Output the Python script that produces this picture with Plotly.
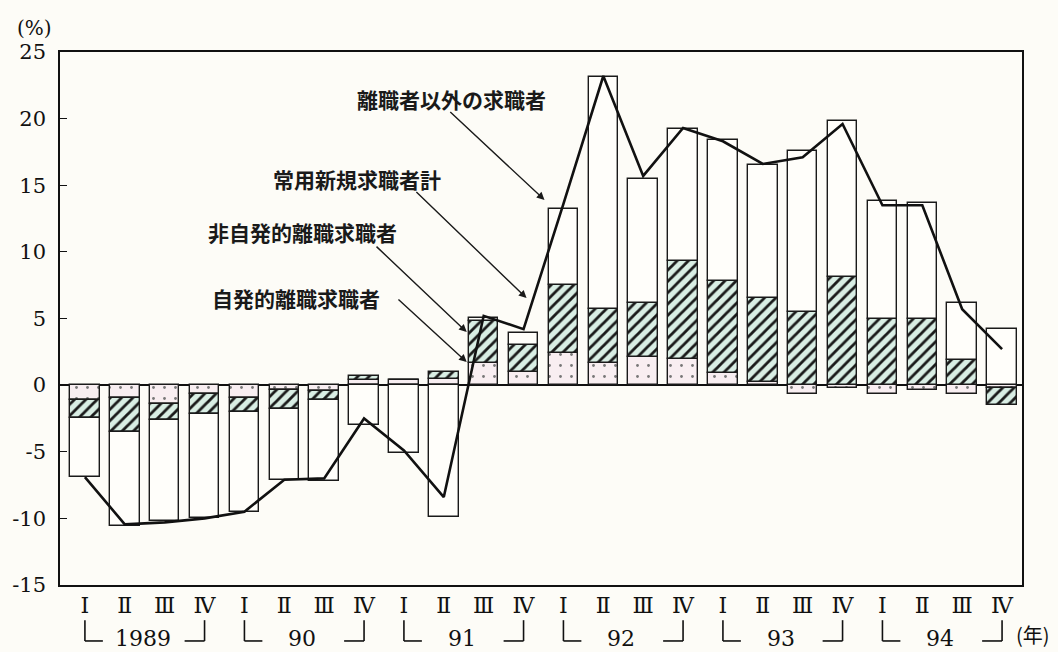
import plotly.graph_objects as go

# ---- data (percent change, contributions) ----
quarter_labels = ["Ⅰ", "Ⅱ", "Ⅲ", "Ⅳ"] * 6
year_labels = ["1989", "90", "91", "92", "93", "94"]

voluntary = [-1.1, -1.0, -1.4, -0.65, -0.95, -0.4, -0.45, 0.4, 0.4, 0.45, 1.65, 1.0,
             2.4, 1.65, 2.1, 1.95, 0.9, 0.2, -0.65, -0.2, -0.65, -0.4, -0.65, -0.25]
involuntary = [-1.35, -2.55, -1.25, -1.55, -1.1, -1.4, -0.65, 0.3, 0.0, 0.5, 3.15, 2.0,
               5.1, 4.1, 4.05, 7.4, 6.9, 6.35, 5.5, 8.1, 4.95, 5.0, 1.85, -1.25]
other = [-4.45, -7.05, -7.55, -7.8, -7.5, -5.35, -6.1, -3.0, -5.1, -9.9, 0.25, 0.9,
         5.75, 17.35, 9.35, 9.9, 10.6, 10.0, 12.1, 11.75, 8.85, 8.7, 4.35, 4.2]
total = [-6.9, -10.45, -10.3, -10.0, -9.5, -7.1, -7.0, -2.5, -4.9, -8.4, 5.2, 4.2,
         13.6, 23.2, 15.7, 19.3, 18.3, 16.6, 17.1, 19.6, 13.5, 13.5, 5.7, 2.7]

x = list(range(len(total)))
XMIN, XMAX = -0.625, 23.5
BG = "#fdfcf7"
JP = "Noto Sans CJK JP"
SERIF = "DejaVu Serif"

line_style = dict(color="#1a1a1a", width=1.4)

fig = go.Figure()
fig.add_trace(go.Bar(
    x=x, y=voluntary, width=0.74, name="自発的離職求職者",
    marker=dict(color="#f8eef1", line=line_style,
                pattern=dict(shape=".", fgcolor="#777", bgcolor="#f8eef1",
                             size=11, solidity=0.05, fillmode="replace")),
))
fig.add_trace(go.Bar(
    x=x, y=involuntary, width=0.74, name="非自発的離職求職者",
    marker=dict(color="#d9eee4", line=line_style,
                pattern=dict(shape="/", fgcolor="#1a1a1a", bgcolor="#d9eee4",
                             size=8, solidity=0.35, fillmode="replace")),
))
fig.add_trace(go.Bar(
    x=x, y=other, width=0.74, name="離職者以外の求職者",
    marker=dict(color="#fffefa", line=line_style),
))
fig.add_trace(go.Scatter(
    x=x, y=total, mode="lines", name="常用新規求職者計",
    line=dict(color="#111", width=2.6),
))

annotations = []
# Labels with arrows
labels = [
    ("離職者以外の求職者", 9.2, 21.5, 9.125, 20.6, 11.525, 13.9),
    ("常用新規求職者計", 6.825, 15.5, 8.275, 14.6, 11.075, 6.53),
    ("非自発的離職求職者", 5.45, 11.5, 7.275, 10.5, 9.575, 3.98),
    ("自発的離職求職者", 5.3, 6.53, 7.825, 6.53, 9.575, 1.73),
]
for txt, tx, ty, ax, ay, hx, hy in labels:
    annotations.append(dict(x=tx, y=ty, xref="x", yref="y", text=txt, showarrow=False,
                            font=dict(family=JP, size=21, color="#1a1a1a", weight=700)))
    annotations.append(dict(x=hx, y=hy, xref="x", yref="y", ax=ax, ay=ay,
                            axref="x", ayref="y", text="", showarrow=True,
                            arrowhead=2, arrowsize=1.1, arrowwidth=1.4,
                            arrowcolor="#1a1a1a"))

annotations.append(dict(x=-0.047, y=1.0, xref="paper", yref="paper", xanchor="left",
                        yanchor="bottom", yshift=10, text="(%)", showarrow=False,
                        font=dict(family=SERIF, size=20, color="#111")))

shapes = []
def px(v):
    return (v - XMIN) / (XMAX - XMIN)

y_top, y_bot = -0.066, -0.105
for k, yl in enumerate(year_labels):
    i0, i3 = 4 * k, 4 * k + 3
    for (xa, ya, xb, yb) in [
        (px(i0), y_top, px(i0), y_bot),
        (px(i0), y_bot, px(i0 + 0.45), y_bot),
        (px(i3 - 0.5), y_bot, px(i3), y_bot),
        (px(i3), y_bot, px(i3), y_top),
    ]:
        shapes.append(dict(type="line", xref="paper", yref="paper", x0=xa, y0=ya,
                           x1=xb, y1=yb, line=dict(color="#111", width=1.6)))
    annotations.append(dict(x=i0 + 1.45, y=y_bot + 0.004, xref="x", yref="paper",
                            text=yl, showarrow=False, yanchor="middle",
                            font=dict(family=SERIF, size=22, color="#111")))

annotations.append(dict(x=23.3, y=y_bot + 0.012, xref="x", yref="paper", xanchor="left",
                        text="(年)", showarrow=False, yanchor="middle",
                        font=dict(family=JP, size=20, color="#111")))

fig.update_layout(
    width=1058, height=652,
    margin=dict(l=57, r=36, t=52, b=67),
    barmode="relative",
    bargap=0,
    showlegend=False,
    paper_bgcolor=BG, plot_bgcolor=BG,
    annotations=annotations,
    shapes=shapes,
)
fig.update_xaxes(
    range=[XMIN, XMAX], tickmode="array", tickvals=x, ticktext=quarter_labels,
    tickfont=dict(family=SERIF, size=22, color="#111"),
    showline=True, linecolor="#111", linewidth=1.6, mirror=True,
    showgrid=False, zeroline=False, ticks="",
)
fig.update_yaxes(
    range=[-15, 25], tickmode="array", tickvals=[-15, -10, -5, 0, 5, 10, 15, 20, 25],
    ticktext=["-15", "-10", "-5", "0", "5", "10", "15", "20", "25"],
    tickfont=dict(family=SERIF, size=21, color="#111"),
    showline=True, linecolor="#111", linewidth=1.6, mirror=True,
    ticks="inside", ticklen=7, tickcolor="#111", tickwidth=1.4,
    ticklabelstandoff=8,
    showgrid=False, zeroline=True, zerolinecolor="#111", zerolinewidth=1.6,
)

fig.write_html("out.html", config={"displayModeBar": False},
               post_script="document.body.style.margin='0';document.body.style.background='%s';" % BG)
